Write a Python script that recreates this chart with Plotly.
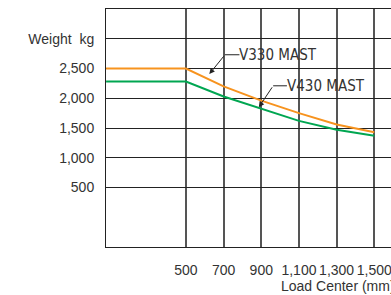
import plotly.graph_objects as go

# Data
load_center = [76, 500, 700, 900, 1100, 1300, 1500]
v330_weight = [2500, 2500, 2200, 1960, 1750, 1560, 1430]
v430_weight = [2280, 2280, 2030, 1830, 1620, 1470, 1370]
x_ticks = [500, 700, 900, 1100, 1300, 1500]
x_tick_text = ["500", "700", "900", "1,100", "1,300", "1,500"]
y_ticks = [500, 1000, 1500, 2000, 2500, 3000]
y_tick_text = ["500", "1,000", "1,500", "2,000", "2,500", "Weight  kg"]

FONT = "Liberation Sans, Arial, sans-serif"
NARROW = "Liberation Sans Narrow, DejaVu Sans Condensed, Arial Narrow, sans-serif"
TXT = "#333333"

fig = go.Figure()
fig.add_trace(go.Scatter(x=load_center, y=v330_weight, mode="lines",
                         line=dict(color="#F7931E", width=2), name="V330 MAST"))
fig.add_trace(go.Scatter(x=load_center, y=v430_weight, mode="lines",
                         line=dict(color="#00A651", width=2), name="V430 MAST"))

# leader lines and labels
def leader(label, tx, ty, bx, by, lx, ly):
    fig.add_shape(type="line", xref="x", yref="y", x0=bx, y0=by, x1=lx, y1=ly,
                  line=dict(color="#222222", width=1))
    fig.add_annotation(x=tx, y=ty, ax=bx, ay=by, xref="x", yref="y", axref="x", ayref="y",
                       text="", showarrow=True, arrowhead=2, arrowsize=1.1, arrowwidth=1,
                       arrowcolor="#222222")
    fig.add_annotation(x=lx, y=ly, xref="x", yref="y", text=label, showarrow=False,
                       xanchor="left", yanchor="middle", xshift=-2,
                       font=dict(family=NARROW, size=15, color=TXT))

leader("V330 MAST", 624, 2406, 707, 2731, 784, 2731)
leader("V430 MAST", 887, 1850, 963, 2209, 1036, 2209)

fig.add_annotation(x=993, y=-500, xref="x", yref="y", yshift=-29, text="Load Center (mm)",
                   showarrow=False, xanchor="left", yanchor="top",
                   font=dict(family=FONT, size=14, color=TXT))

fig.update_layout(
    width=391, height=295,
    margin=dict(l=106, r=0, t=9, b=48, pad=0, autoexpand=False),
    paper_bgcolor="white", plot_bgcolor="white",
    showlegend=False,
    xaxis=dict(range=[75.6, 1588.6], tickvals=x_ticks, ticktext=x_tick_text,
               automargin=False, ticklabeloverflow="allow",
               showgrid=True, gridcolor="#555555", gridwidth=1.5,
               showline=True, linecolor="#222222", linewidth=1, mirror=True,
               zeroline=False, ticks="", ticklabelstandoff=10,
               tickfont=dict(family=FONT, size=14, color=TXT)),
    yaxis=dict(range=[-500, 3500], tickvals=y_ticks, ticktext=y_tick_text,
               automargin=False,
               showgrid=True, gridcolor="#222222", gridwidth=1,
               showline=True, linecolor="#222222", linewidth=1, mirror=False,
               zeroline=False, ticks="", ticklabelstandoff=8,
               tickfont=dict(family=FONT, size=14, color=TXT)),
)

fig.write_html("out.html", config={"displayModeBar": False},
               post_script="document.body.style.margin='0';document.body.style.overflow='hidden';")
